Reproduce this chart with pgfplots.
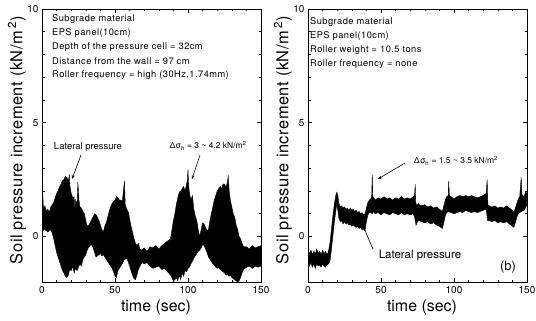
\documentclass[border=0pt]{standalone}
\usepackage{fontspec}
\setmainfont{TeX Gyre Heros}
\usepackage{pgfplots}
\usepackage{pgfplotstable}
\pgfplotsset{compat=1.18}
\usepgfplotslibrary{fillbetween}
\usetikzlibrary{arrows.meta}

\pgfplotstableread{
x y
0 1.3
0.5 1.9
1 1.2
2 1.35
3 1.1
4 1.2
5 1.05
6 1.3
7 1.4
8 1.5
9 1.7
10 1.9
11 2.0
12 2.2
13 2.3
14 2.45
15 2.5
16 2.65
17 2.6
18 2.45
18.7 2.7
19.2 2.2
20 1.9
21 1.7
22 1.75
22.5 1.2
23 1.6
24 1.4
24.6 2.4
25.3 1.6
26 1.3
27 1.25
28 1.1
29 1.0
30 0.7
31 0.45
32 0.5
33 0.6
34 0.75
35 0.85
36 1.0
37 0.95
38 0.85
39 0.7
40 0.5
41 0.3
42 0.2
43 0.45
44 0.6
45 0.85
46 1.1
47 1.3
48 1.45
49 1.55
50 1.6
51 1.75
52 1.7
53 1.6
54 1.6
55 1.55
56.5 2.45
57 1.4
58 1.2
59 1.1
60 0.8
61 0.45
62 0.2
63 -0.1
64 -0.3
65 -0.4
66 -0.3
67 -0.55
68 -0.6
70 -0.5
72 -0.65
74 -0.45
76 -0.5
78 -0.4
80 -0.55
82 -0.4
84 -0.3
86 -0.2
88 -0.1
89 0.3
90 0.7
91 1.0
92 1.4
93 1.7
94 1.95
95 2.0
96 2.1
97 2.2
98 2.0
99 2.3
99.6 2.5
100 2.95
100.4 2.3
101 1.9
102 1.6
103 1.8
104 1.2
105 0.9
106 0.7
107 0.3
108 0.0
109 0.3
110 0.6
111 0.55
112 0.4
113 0.25
114 0.3
115 0.7
116 1.0
117 1.3
118 1.6
119 1.8
120 2.0
121 2.1
122 2.2
123 2.1
124 2.3
125 2.3
126 2.15
127 2.4
127.6 2.65
128.2 2.0
129 1.6
130 1.3
131 1.0
132 0.85
133 0.5
134 0.3
135 0.0
136 -0.1
137 -0.3
138 -0.45
140 -0.45
142 -0.55
144 -0.4
146 -0.5
148 -0.45
150 -0.4
}\upA

\pgfplotstableread{
x y
0 0.25
2 0.3
4 0.2
6 0.3
7 0.15
8 -0.1
9 -0.4
10 -0.7
11 -0.9
12 -1.1
13 -1.3
14 -1.5
15 -1.6
16 -1.75
17 -1.8
18 -1.7
19 -1.45
20 -1.5
21 -1.3
22 -1.6
23 -1.4
24 -1.5
25 -1.35
26 -1.2
27 -1.3
28 -1.0
29 -0.9
30 -0.8
31 -0.6
32 -0.45
33 -0.4
34 -0.35
35 -0.5
36 -0.7
37 -0.9
38 -0.85
39 -0.8
40 -0.75
41 -0.85
42 -0.8
43 -0.9
44 -1.0
45 -1.1
46 -1.2
47 -1.3
48 -1.4
49 -1.55
50 -1.75
51 -1.8
52 -1.5
53 -1.4
54 -1.3
55 -1.2
56 -1.05
57 -1.0
58 -0.95
59 -1.1
60 -1.3
61 -1.5
62 -1.7
63 -1.85
64 -1.9
65 -1.7
66 -1.45
67 -1.3
68 -1.2
69 -1.15
70 -1.2
72 -1.15
74 -1.3
76 -1.4
78 -1.35
80 -1.3
82 -1.45
84 -1.4
86 -1.55
88 -1.7
89 -1.8
90 -1.95
91 -1.9
92 -1.8
93 -1.95
94 -1.7
95 -1.9
96 -1.6
97 -1.75
98 -1.5
99 -1.55
100 -1.4
101 -1.35
102 -1.2
103 -1.1
104 -0.95
105 -0.85
106 -0.75
107 -0.65
108 -0.6
109 -0.5
110 -0.35
111 -0.4
112 -0.55
113 -0.7
114 -0.9
115 -1.0
116 -1.1
117 -1.2
118 -1.25
119 -1.35
120 -1.4
121 -1.35
122 -1.45
123 -1.5
124 -1.55
125 -1.6
126 -1.7
127 -1.65
128 -1.75
129 -1.7
130 -1.8
131 -1.85
132 -1.9
133 -1.95
134 -2.0
135 -1.95
136 -1.8
137 -1.6
138 -1.45
139 -1.4
140 -1.35
142 -1.3
144 -1.4
146 -1.3
148 -1.35
150 -1.3
}\loA

\pgfplotstableread{
x y
0 -0.65
1 -0.75
2 -0.6
3 -0.8
4 -0.65
5 -0.75
6 -0.55
7 -0.75
8 -0.65
9 -0.8
10 -0.6
11 -0.75
12 -0.65
13 -0.8
14 -0.65
15 -0.3
16 0.3
17 0.9
18 1.4
19 1.8
19.8 1.95
20.5 1.8
21 1.5
22 1.3
23 1.35
24 1.25
25 1.3
26 1.2
27 1.25
28 1.15
29 1.25
30 1.15
31 1.2
32 1.1
33 1.15
34 1.05
35 1.1
36 1.0
37 1.05
38 0.95
39 1.0
40 1.25
41 1.5
42 1.6
43 1.65
43.6 1.75
44 2.7
44.4 1.75
45 1.7
46 1.6
48 1.7
50 1.65
52 1.75
54 1.65
56 1.7
58 1.6
60 1.7
62 1.65
64 1.75
66 1.65
68 1.7
70 1.65
72 1.75
73 1.8
73.4 2.3
73.8 1.5
74.5 1.35
75.5 1.45
76 1.4
78 1.35
80 1.4
82 1.3
84 1.35
86 1.25
88 1.3
90 1.2
91 1.15
92 1.1
93 1.35
94 1.6
95 1.75
96 1.8
96.4 2.45
96.8 1.8
98 1.75
100 1.65
102 1.75
104 1.8
106 1.75
108 1.8
110 1.75
112 1.8
114 1.75
116 1.7
118 1.75
120 1.8
122 1.9
122.7 2.5
123.2 1.4
124 1.35
126 1.3
128 1.35
130 1.25
132 1.3
134 1.25
136 1.35
138 1.25
140 1.15
141 1.05
142 1.25
143 1.45
144 1.65
145 1.75
146 2.6
146.5 1.85
148 1.75
149 1.95
150 1.9
}\upB

\pgfplotstableread{
x y
0 -1.2
1 -1.3
2 -1.15
3 -1.35
4 -1.2
5 -1.4
6 -1.2
7 -1.3
8 -1.25
9 -1.35
10 -1.2
11 -1.3
12 -1.35
13 -1.25
14 -1.2
15 -1.1
16 -0.6
17 0.0
18 0.6
19 1.1
19.8 1.45
20.5 1.1
21 0.85
22 0.65
23 0.7
24 0.55
25 0.65
26 0.55
27 0.6
28 0.5
29 0.55
30 0.45
31 0.5
32 0.45
33 0.4
34 0.45
35 0.35
36 0.4
37 0.3
38 0.35
39 0.25
40 0.65
41 0.95
42 1.05
43 1.05
44 1.0
45 1.1
46 1.0
48 1.05
50 0.95
52 1.05
54 1.0
56 0.95
58 1.05
60 1.0
62 0.95
64 1.05
66 0.95
68 1.0
70 0.95
72 1.0
73 0.85
74 0.5
75 0.65
76 0.7
78 0.65
80 0.6
82 0.65
84 0.55
86 0.6
88 0.5
90 0.45
91 0.4
92 0.35
93 0.6
94 0.9
95 1.05
96 1.1
98 1.05
100 1.0
102 1.05
104 1.1
106 1.05
108 1.15
110 1.1
112 1.05
114 1.1
116 1.05
118 1.1
120 1.15
122 1.2
123 0.7
124 0.7
126 0.65
128 0.7
130 0.6
132 0.65
134 0.6
136 0.65
138 0.55
140 0.45
141 0.4
142 0.6
143 0.85
144 1.0
145 1.05
146 1.1
148 1.15
150 1.4
}\loB

\pgfplotsset{
  panel/.style={
    scale only axis, width=219bp, height=273bp,
    anchor=south west,
    xmin=0, xmax=150, ymin=-2, ymax=10,
    xtick={0,50,100,150}, ytick={0,5,10},
    minor x tick num=4, minor y tick num=4,
    tick align=inside,
    major tick length=4bp, minor tick length=2.5bp,
    axis line style={line width=0.9pt},
    every tick/.style={black, line width=0.6pt},
    ticklabel style={font=\fontsize{10}{12}\selectfont},
    /pgf/number format/assume math mode=true,
    xticklabel style={yshift=-1bp},
  }
}

\begin{document}
\begin{tikzpicture}[x=1bp,y=1bp]

% ---------------- left panel ----------------
\begin{axis}[panel, at={(42bp,38bp)}]
\addplot[name path=UA, black, line width=0.4pt] table {\upA};
\addplot[name path=LA, black, line width=0.4pt] table {\loA};
\addplot[black] fill between[of=UA and LA];
\end{axis}

% ---------------- right panel ----------------
\begin{axis}[panel, at={(308bp,38bp)}]
\addplot[name path=UB, black, line width=0.4pt] table {\upB};
\addplot[name path=LB, black, line width=0.4pt] table {\loB};
\addplot[black] fill between[of=UB and LB];
\end{axis}

% axis labels
\node[rotate=90, font=\fontsize{16.5}{19}\selectfont\addfontfeatures{LetterSpace=3}] at (17,180) {Soil pressure increment (kN/m\,\textsuperscript{2})};
\node[rotate=90, font=\fontsize{16.5}{19}\selectfont\addfontfeatures{LetterSpace=3}] at (283,180) {Soil pressure increment (kN/m\,\textsuperscript{2})};
\node[font=\fontsize{16}{19}\selectfont] at (156,13) {time (sec)};
\node[font=\fontsize{16}{19}\selectfont] at (422,13) {time (sec)};

% text blocks
\begin{scope}[every node/.style={anchor=west, inner sep=0pt, font=\fontsize{9.3}{11}\selectfont\addfontfeatures{LetterSpace=5}}]
\node at (52,301) {Subgrade material};
\node at (52,287) {EPS panel(10cm)};
\node at (52,273) {Depth of the pressure cell = 32cm};
\node at (52,259) {Distance from the wall = 97 cm};
\node at (52,245) {Roller frequency = high (30Hz,1.74mm)};
\node at (310,298) {Subgrade material};
\node at (310,284) {EPS panel(10cm)};
\node at (310,270) {Roller weight = 10.5 tons};
\node at (310,256) {Roller frequency = none};
\end{scope}

\node[font=\fontsize{9.5}{11}\selectfont] at (88,173) {Lateral pressure};
\draw[-{Stealth[length=4bp,width=3bp]}, line width=0.6pt] (81,165) -- (72,141);
\node[font=\fontsize{8.5}{10}\selectfont] at (208,174) {Δσ\textsubscript{h} = 3 \textasciitilde{} 4.2 kN/m\textsuperscript{2}};
\draw[-{Stealth[length=4bp,width=3bp]}, line width=0.6pt] (200,165) -- (192,141);

\node[font=\fontsize{8.5}{10}\selectfont] at (456,159) {Δσ\textsubscript{h} = 1.5 \textasciitilde{} 3.5 kN/m\textsuperscript{2}};
\draw[-{Stealth[length=4bp,width=3bp]}, line width=0.6pt] (405,157) -- (378,141);
\node[font=\fontsize{11.5}{13}\selectfont] at (420,64) {Lateral pressure};
\draw[-{Stealth[length=4bp,width=3bp]}, line width=0.6pt] (373,71) -- (363,94);
\node[font=\fontsize{13}{15}\selectfont] at (508,53) {(b)};

\pgfresetboundingbox
\path[use as bounding box] (0,0) rectangle (536,320);
\end{tikzpicture}
\end{document}
